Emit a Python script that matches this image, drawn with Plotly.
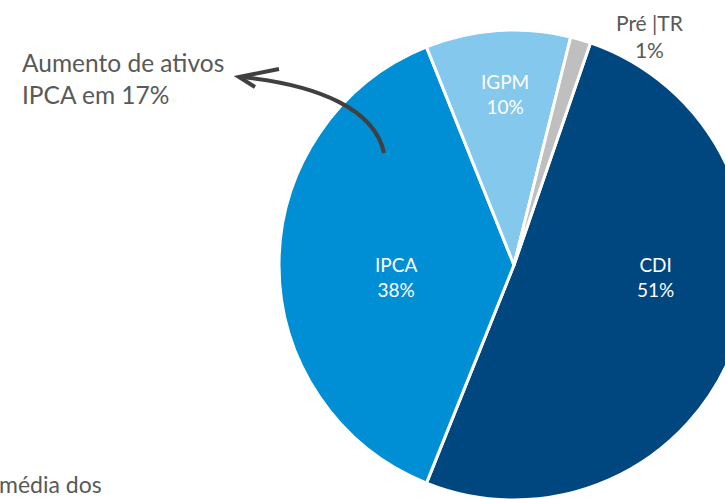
import plotly.graph_objects as go

categories = ["CDI", "IPCA", "IGPM", "Pré |TR"]
shares = [51, 38, 10, 1.4]
pct_labels = ["51%", "38%", "10%", "1%"]
colors = ["#00467F", "#008FD5", "#85C8EE", "#BFBFBF"]

W, H = 760, 510
FONT = "Lato"

def px(x):
    return x / W

def py(y):
    return 1 - y / H

# pie placement (pixels): center (514, 265), radius 235
cx, cy, r = 514, 265, 235

fig = go.Figure()
fig.add_trace(go.Pie(
    labels=categories,
    values=shares,
    text=pct_labels,
    sort=False,
    direction="clockwise",
    rotation=19,
    marker=dict(colors=colors, line=dict(color="white", width=3)),
    textinfo="none",
    automargin=False,
    showlegend=False,
    hoverinfo="label+text",
    domain=dict(x=[px(cx - r), px(cx + r)], y=[py(cy + r), py(cy - r)]),
))

# slice labels (layout positions in pixels)
label_pos = [(655, 277), (396, 277), (505, 94), (650, 36)]
label_colors = ["white", "white", "white", "#595959"]
label_sizes = [19, 19, 19, 21]
for name, pct, (lx, ly), c, s in zip(categories, pct_labels, label_pos, label_colors, label_sizes):
    fig.add_annotation(
        text=f"{name}<br>{pct}", x=px(lx), y=py(ly), xref="paper", yref="paper",
        xanchor="center", yanchor="middle", align="center", showarrow=False,
        font=dict(family=FONT, size=s, color=c),
    )

fig.add_annotation(
    text="Aumento de ativos<br>IPCA em 17%",
    x=px(20), y=py(46), xref="paper", yref="paper",
    xanchor="left", yanchor="top", align="left", showarrow=False,
    font=dict(family=FONT, size=24.5, color="#595959"),
)
fig.add_annotation(
    text="média dos",
    x=px(-3), y=py(468), xref="paper", yref="paper",
    xanchor="left", yanchor="top", align="left", showarrow=False,
    font=dict(family=FONT, size=23, color="#595959"),
)

# curved arrow
def pt(x, y):
    return f"{px(x)},{py(y)}"

fig.add_shape(type="path", xref="paper", yref="paper",
              path=f"M {pt(384,153)} C {pt(375,110)} {pt(320,85)} {pt(241,77)}",
              line=dict(color="#404040", width=4))
fig.add_shape(type="path", xref="paper", yref="paper",
              path=f"M {pt(279,69)} L {pt(239,77)} L {pt(255,87)}",
              line=dict(color="#404040", width=4))

fig.update_layout(
    width=W, height=H,
    margin=dict(l=0, r=0, t=0, b=0),
    paper_bgcolor="white", plot_bgcolor="white",
    font=dict(family=FONT),
)

fig.write_html("out.html", config={"displayModeBar": False},
               post_script="document.body.style.margin='0';document.body.style.overflow='hidden';")
